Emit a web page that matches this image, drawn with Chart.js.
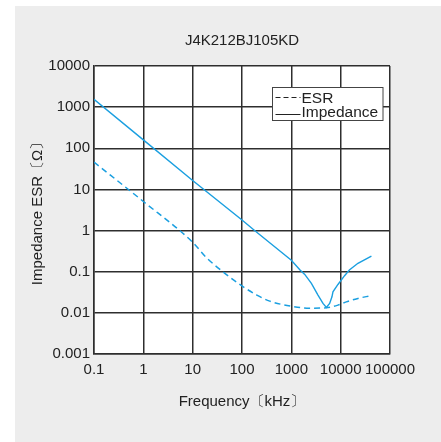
<!DOCTYPE html>
<html>
<head>
<meta charset="utf-8">
<script src="https://cdn.jsdelivr.net/npm/chart.js@4"></script>
<style>
  html, body { margin: 0; padding: 0; background: #fff; }
  #panel { position: absolute; left: 15px; top: 6px; width: 426px; height: 436px; background: #ededed; }
  #chart { position: absolute; left: 0; top: 0; }
</style>
</head>
<body>
<div id="panel"></div>
<canvas id="chart" width="441" height="442"></canvas>
<script>
// chart texts
const chartTitle = 'J4K212BJ105KD';
const xTitle = 'Frequency〔kHz〕';
const yTitle = 'Impedance ESR〔Ω〕';

// axis ticks
const xTicks = [0.1, 1, 10, 100, 1000, 10000, 100000];
const xTickLabels = ['0.1', '1', '10', '100', '1000', '10000', '100000'];
const yTicks = [0.001, 0.01, 0.1, 1, 10, 100, 1000, 10000];
const yTickLabels = ['0.001', '0.01', '0.1', '1', '10', '100', '1000', '10000'];

// Impedance curve (kHz, ohm)
const impFreq = [0.1, 1, 10, 100, 180, 370, 1000, 1500, 1870, 2550, 3470, 4380, 5130, 5980, 6660, 6980, 8810, 12000, 15000, 22400, 42000];
const impValues = [1550, 160, 16.5, 1.8, 1.0, 0.5, 0.19, 0.11, 0.086, 0.052, 0.027, 0.017, 0.0135, 0.017, 0.0245, 0.0325, 0.049, 0.08, 0.11, 0.16, 0.24];

// ESR curve (kHz, ohm)
const esrFreq = [0.1, 1, 10, 19, 41, 100, 200, 365, 1000, 2340, 5130, 8810, 13000, 22400, 40000];
const esrValues = [46, 5.1, 0.52, 0.22, 0.1, 0.045, 0.027, 0.0193, 0.0145, 0.013, 0.0133, 0.0154, 0.0185, 0.0224, 0.026];

const lineBlue = '#1a9fe0';
const gridColor = '#2e2e2e';
const textColor = '#222';

Chart.defaults.font.family = "'Liberation Sans', Arial, sans-serif";
Chart.defaults.font.size = 15;
Chart.defaults.color = textColor;

// white plot area on the grey panel
const plotFill = {
  id: 'plotFill',
  beforeDraw(chart) {
    const { ctx, chartArea: a } = chart;
    ctx.save();
    ctx.fillStyle = '#fff';
    ctx.fillRect(a.left, a.top, a.right - a.left, a.bottom - a.top);
    ctx.restore();
  }
};

// boxed legend inside the plot, black sample lines
const boxLegend = {
  id: 'boxLegend',
  afterDatasetsDraw(chart) {
    const { ctx, chartArea: a } = chart;
    const left = a.right - 117.5, top = a.top + 21.5, w = 110.5, h = 33;
    ctx.save();
    ctx.fillStyle = '#fff';
    ctx.fillRect(left, top, w, h);
    ctx.strokeStyle = '#444';
    ctx.lineWidth = 1;
    ctx.strokeRect(left, top, w, h);

    ctx.strokeStyle = '#222';
    ctx.fillStyle = textColor;
    ctx.font = "15.5px 'Liberation Sans', Arial, sans-serif";
    ctx.textBaseline = 'alphabetic';
    chart.data.datasets.forEach((ds, i) => {
      const y = top + 10 + i * 17;
      ctx.beginPath();
      ctx.setLineDash(ds.borderDash && ds.borderDash.length ? [5, 3] : []);
      ctx.moveTo(left + 3, y);
      ctx.lineTo(left + 28, y);
      ctx.stroke();
      ctx.fillText(ds.label, left + 29, top + 15 + i * 14);
    });
    ctx.restore();
  }
};

const toPoints = (xs, ys) => xs.map((x, i) => ({ x: x, y: ys[i] }));

new Chart(document.getElementById('chart'), {
  type: 'line',
  data: {
    datasets: [
      {
        label: 'ESR',
        data: toPoints(esrFreq, esrValues),
        borderColor: lineBlue,
        borderWidth: 1.5,
        borderDash: [6, 4],
        pointRadius: 0,
        fill: false,
        cubicInterpolationMode: 'monotone'
      },
      {
        label: 'Impedance',
        data: toPoints(impFreq, impValues),
        borderColor: lineBlue,
        borderWidth: 1.4,
        pointRadius: 0,
        fill: false,
        tension: 0
      }
    ]
  },
  options: {
    responsive: false,
    animation: false,
    layout: { padding: { left: 0, right: 51, top: 0, bottom: 0 } },
    plugins: {
      legend: { display: false },
      tooltip: { enabled: false },
      title: {
        display: true,
        text: chartTitle,
        fullSize: false,
        color: textColor,
        font: { size: 15, weight: 'normal' },
        padding: { top: 31.5, bottom: 16.5 }
      }
    },
    scales: {
      x: {
        type: 'logarithmic',
        min: 0.1,
        max: 100000,
        afterBuildTicks: s => { s.ticks = xTicks.map(v => ({ value: v })); },
        afterFit: s => { s.height = 88; },
        grid: { color: gridColor, lineWidth: 1.5, drawTicks: false },
        border: { color: gridColor, width: 1.5 },
        ticks: {
          padding: 7,
          autoSkip: false,
          maxRotation: 0,
          callback: (v, i) => xTickLabels[i]
        },
        title: { display: true, text: xTitle, padding: { top: 0, bottom: 31 } }
      },
      y: {
        type: 'logarithmic',
        min: 0.001,
        max: 10000,
        afterBuildTicks: s => { s.ticks = yTicks.map(v => ({ value: v })); },
        afterFit: s => { s.width = 94; },
        grid: { color: gridColor, lineWidth: 1.5, drawTicks: false },
        border: { color: gridColor, width: 1.5 },
        ticks: {
          padding: 4,
          autoSkip: false,
          callback: (v, i) => yTickLabels[i]
        },
        title: { display: true, text: yTitle, padding: { top: 29, bottom: 0 } }
      }
    }
  },
  plugins: [plotFill, boxLegend]
});
</script>
</body>
</html>
